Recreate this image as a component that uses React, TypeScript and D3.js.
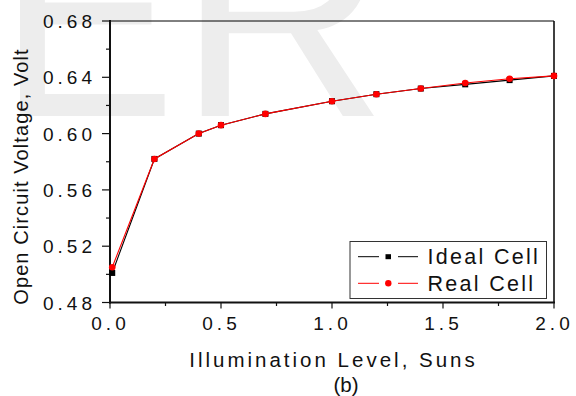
import React from "react";
import * as d3 from "d3";

const illumination = [0.01, 0.2, 0.4, 0.5, 0.7, 1.0, 1.2, 1.4, 1.6, 1.8, 2.0];
const idealVoc = [0.501, 0.582, 0.6, 0.606, 0.614, 0.623, 0.628, 0.632, 0.635, 0.638, 0.641];
const realVoc = [0.505, 0.582, 0.6, 0.606, 0.614, 0.623, 0.628, 0.632, 0.636, 0.639, 0.641];

const xMajorTicks = [0, 0.5, 1.0, 1.5, 2.0];
const xMinorTicks = [0.25, 0.75, 1.25, 1.75];
const yMajorTicks = [0.48, 0.52, 0.56, 0.6, 0.64, 0.68];
const yMinorTicks = [0.5, 0.54, 0.58, 0.62, 0.66];

const seriesNames = ["Ideal Cell", "Real Cell"];
const xTitle = "Illumination Level, Suns";
const yTitle = "Open Circuit Voltage, Volt";
const caption = "(b)";

const FONT = "'Liberation Sans', Arial, Helvetica, sans-serif";

export default function App() {
  const W = 576, H = 396;
  const left = 110, right = 554, top = 21, bottom = 302.5;
  const x = d3.scaleLinear().domain([0, 2]).range([left, right]);
  const y = d3.scaleLinear().domain([0.48, 0.68]).range([bottom, top]);

  const lineGen = d3.line<number>()
    .x((_, i) => x(illumination[i]))
    .y((d) => y(d));

  const tickLs = 4;
  const legendLs = 2.3;

  return (
    <svg width={W} height={H} style={{ position: "absolute", left: 0, top: 0, background: "#fff" }} fontFamily={FONT}>
      <rect x={0} y={0} width={W} height={H} fill="#fff" />
      {/* watermark */}
      <g fill="#ededed">
        <text x={-1} y={116} fontSize={290} transform="translate(-1,0) scale(0.92,1)">E</text>
        <text x={178} y={116} fontSize={290}>R</text>
      </g>

      {/* frame */}
      <line x1={left} x2={right} y1={top} y2={top} stroke="#000" strokeWidth={1} />
      <line x1={right} x2={right} y1={top} y2={bottom} stroke="#000" strokeWidth={1.5} />
      <line x1={left} x2={left} y1={top - 1} y2={bottom + 1} stroke="#111" strokeWidth={2} />
      <line x1={left - 1} x2={right + 1} y1={bottom} y2={bottom} stroke="#111" strokeWidth={2} />

      {/* x ticks */}
      {xMajorTicks.map((t) => (
        <g key={"xm" + t}>
          <line x1={x(t)} x2={x(t)} y1={bottom} y2={bottom + 6} stroke="#111" strokeWidth={1.2} />
          <text x={x(t) + 0.5} y={330} fontSize={19} letterSpacing={tickLs} textAnchor="middle" fill="#111">
            {t.toFixed(1)}
          </text>
        </g>
      ))}
      {xMinorTicks.map((t) => (
        <line key={"xn" + t} x1={x(t)} x2={x(t)} y1={bottom} y2={bottom + 3.5} stroke="#111" strokeWidth={1.2} />
      ))}

      {/* y ticks */}
      {yMajorTicks.map((t) => (
        <g key={"ym" + t}>
          <line x1={left - 8} x2={left} y1={y(t)} y2={y(t)} stroke="#111" strokeWidth={1.2} />
          <text x={96} y={y(t) + 7} fontSize={19} letterSpacing={tickLs} textAnchor="end" fill="#111">
            {t.toFixed(2)}
          </text>
        </g>
      ))}
      {yMinorTicks.map((t) => (
        <line key={"yn" + t} x1={left - 4} x2={left} y1={y(t)} y2={y(t)} stroke="#111" strokeWidth={1.2} />
      ))}

      {/* series */}
      <path d={lineGen(idealVoc) || ""} fill="none" stroke="#000" strokeWidth={1.1} />
      {idealVoc.map((v, i) => (
        <rect key={"sq" + i} x={x(illumination[i]) - 3} y={y(v) - 3} width={6} height={6} fill="#000" />
      ))}
      <path d={lineGen(realVoc) || ""} fill="none" stroke="#ff0000" strokeWidth={1.1} />
      {realVoc.map((v, i) => (
        <circle key={"ci" + i} cx={x(illumination[i])} cy={y(v)} r={3.3} fill="#ff0000" />
      ))}

      {/* legend */}
      <rect x={350} y={241.5} width={196.5} height={57} fill="#fff" stroke="#333" strokeWidth={1} />
      {seriesNames.map((name, i) => {
        const cy = 256.7 + i * 26.6;
        const col = i === 0 ? "#000" : "#ff0000";
        return (
          <g key={name}>
            <line x1={358} x2={379} y1={cy} y2={cy} stroke={col} strokeWidth={1} />
            <line x1={398} x2={418} y1={cy} y2={cy} stroke={col} strokeWidth={1} />
            {i === 0 ? (
              <rect x={385.5} y={cy - 2.5} width={5.5} height={5} fill="#000" />
            ) : (
              <circle cx={388.3} cy={cy} r={3.2} fill="#ff0000" />
            )}
            <text x={427.5} y={cy + 7.5} fontSize={21.5} letterSpacing={legendLs} fill="#111">
              {name}
            </text>
          </g>
        );
      })}

      {/* axis titles */}
      <text x={(left + right) / 2 + 1.5} y={366.5} fontSize={20.5} letterSpacing={3} textAnchor="middle" fill="#111">
        {xTitle}
      </text>
      <text x={346} y={392} fontSize={20.5} textAnchor="middle" fill="#111">
        {caption}
      </text>
      <text
        transform={`translate(28,${176.5}) rotate(-90)`}
        fontSize={20}
        letterSpacing={1.1}
        textAnchor="middle"
        fill="#111"
      >
        {yTitle}
      </text>
    </svg>
  );
}
